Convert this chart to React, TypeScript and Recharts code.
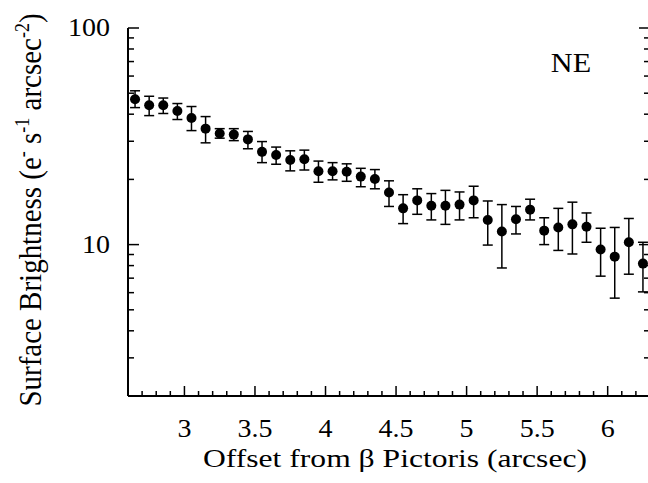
import {
  ScatterChart,
  Scatter,
  XAxis,
  YAxis,
  ErrorBar,
} from 'recharts';

// offset from beta Pic (arcsec)
const offsets = [
  2.65, 2.75, 2.85, 2.95, 3.05, 3.15, 3.25, 3.35, 3.45, 3.55, 3.65, 3.75, 3.85,
  3.95, 4.05, 4.15, 4.25, 4.35, 4.45, 4.55, 4.65, 4.75, 4.85, 4.95, 5.05, 5.15,
  5.25, 5.35, 5.45, 5.55, 5.65, 5.75, 5.85, 5.95, 6.05, 6.15, 6.25,
];

const brightness = [
  46.9, 44.0, 44.0, 41.4, 38.4, 34.3, 32.6, 32.2, 30.6, 26.8, 25.9, 24.6, 24.8,
  21.8, 21.8, 21.7, 20.6, 20.1, 17.4, 14.7, 16.0, 15.1, 15.1, 15.3, 16.0, 13.0,
  11.5, 13.1, 14.5, 11.6, 12.0, 12.4, 12.1, 9.5, 8.8, 10.25, 8.17,
];

const upper = [
  51.3, 48.4, 47.5, 44.8, 43.4, 39.0, 34.3, 34.3, 33.3, 29.9, 28.2, 27.1, 27.3,
  24.3, 23.9, 23.6, 22.5, 22.2, 19.7, 17.0, 18.1, 17.2, 17.8, 17.5, 18.6, 15.9,
  15.3, 15.0, 16.2, 13.3, 14.7, 15.7, 14.0, 11.9, 12.0, 13.2, 10.25,
];

const lower = [
  42.9, 39.4, 40.3, 37.8, 33.6, 29.5, 31.0, 30.2, 27.7, 23.9, 23.5, 21.9, 22.1,
  19.4, 19.9, 19.6, 18.5, 18.1, 15.0, 12.5, 13.8, 13.0, 12.4, 13.0, 13.3, 9.95,
  7.8, 11.2, 13.0, 10.0, 9.4, 9.05, 10.25, 7.15, 5.66, 7.3, 6.05,
];

const xTicks = [
  2.7, 2.8, 2.9, 3, 3.1, 3.2, 3.3, 3.4, 3.5, 3.6, 3.7, 3.8, 3.9, 4, 4.1, 4.2,
  4.3, 4.4, 4.5, 4.6, 4.7, 4.8, 4.9, 5, 5.1, 5.2, 5.3, 5.4, 5.5, 5.6, 5.7, 5.8,
  5.9, 6, 6.1, 6.2,
];
const xMajor = [3, 3.5, 4, 4.5, 5, 5.5, 6];

const yTicks = [2, 3, 4, 5, 6, 7, 8, 9, 10, 20, 30, 40, 50, 60, 70, 80, 90, 100];
const yMajor = [10, 100];

const data = offsets.map((x, i) => ({
  x,
  y: brightness[i],
  err: [brightness[i] - lower[i], upper[i] - brightness[i]],
}));

const FONT = '"Liberation Serif", "Times New Roman", serif';
const INK = '#000';
// the reference's lettering is a little wider than plain Times
const SX = 1.12;

function BottomTick(props: any) {
  const { x, y, payload } = props;
  const major = xMajor.includes(payload.value);
  return (
    <g>
      <line x1={x} x2={x} y1={y} y2={y - (major ? 10 : 5)} stroke={INK} strokeWidth={1.5} />
      {major && (
        <text
          transform={`translate(${x},${y + 41}) scale(${SX},1)`}
          textAnchor="middle"
          fontFamily={FONT}
          fontSize={25}
          fill={INK}
        >
          {String(payload.value)}
        </text>
      )}
    </g>
  );
}

function TopTick(props: any) {
  const { x, y, payload } = props;
  const major = xMajor.includes(payload.value);
  return <line x1={x} x2={x} y1={y} y2={y + (major ? 10 : 5)} stroke={INK} strokeWidth={1.5} />;
}

function LeftTick(props: any) {
  const { x, y, payload } = props;
  const major = yMajor.includes(payload.value);
  return (
    <g>
      <line x1={x} x2={x + (major ? 11 : 6)} y1={y} y2={y} stroke={INK} strokeWidth={1.5} />
      {major && (
        <text
          transform={`translate(${x - 18},${y + 8}) scale(${SX},1)`}
          textAnchor="end"
          fontFamily={FONT}
          fontSize={25}
          fill={INK}
        >
          {String(payload.value)}
        </text>
      )}
    </g>
  );
}

function RightTick(props: any) {
  const { x, y, payload } = props;
  const major = yMajor.includes(payload.value);
  return <line x1={x} x2={x - (major ? 11 : 6)} y1={y} y2={y} stroke={INK} strokeWidth={1.5} />;
}

export default function App() {
  return (
    <div
      style={{
        position: 'absolute',
        left: 0,
        top: 0,
        width: 648,
        height: 483,
        overflow: 'hidden',
        background: '#fff',
      }}
    >
      <ScatterChart
        width={660}
        height={483}
        margin={{ top: 28, right: 0, bottom: 0, left: 0 }}
      >
        <XAxis
          xAxisId="b"
          dataKey="x"
          type="number"
          domain={[2.6, 6.3]}
          ticks={xTicks}
          interval={0}
          allowDataOverflow
          orientation="bottom"
          height={87}
          tickSize={0}
          tickMargin={0}
          tick={BottomTick}
          axisLine={{ stroke: INK, strokeWidth: 2 }}
        />
        <XAxis
          xAxisId="t"
          dataKey="x"
          type="number"
          domain={[2.6, 6.3]}
          ticks={xTicks}
          interval={0}
          allowDataOverflow
          orientation="top"
          height={0}
          tickSize={0}
          tickMargin={0}
          tick={TopTick}
          axisLine={{ stroke: INK, strokeWidth: 2 }}
        />
        <YAxis
          yAxisId="l"
          dataKey="y"
          type="number"
          scale="log"
          domain={[2, 100]}
          ticks={yTicks}
          interval={0}
          allowDataOverflow
          orientation="left"
          width={128}
          tickSize={0}
          tickMargin={0}
          tick={LeftTick}
          axisLine={{ stroke: INK, strokeWidth: 2 }}
        />
        <YAxis
          yAxisId="r"
          dataKey="y"
          type="number"
          scale="log"
          domain={[2, 100]}
          ticks={yTicks}
          interval={0}
          allowDataOverflow
          orientation="right"
          width={10}
          tickSize={0}
          tickMargin={0}
          tick={RightTick}
          axisLine={{ stroke: INK, strokeWidth: 2 }}
        />
        <Scatter
          xAxisId="b"
          yAxisId="l"
          data={data}
          fill={INK}
          isAnimationActive={false}
          shape={(p: any) => <circle cx={p.cx} cy={p.cy} r={5} fill={INK} />}
        >
          <ErrorBar
            dataKey="err"
            direction="y"
            width={5}
            stroke={INK}
            strokeWidth={1.5}
            isAnimationActive={false}
          />
        </Scatter>
      </ScatterChart>
      <svg
        width={648}
        height={483}
        style={{ position: 'absolute', left: 0, top: 0, pointerEvents: 'none' }}
      >
        <text
          transform={`translate(571,72) scale(${SX},1)`}
          textAnchor="middle"
          fontFamily={FONT}
          fontSize={27}
          fill={INK}
        >
          NE
        </text>
        <text
          x={395}
          y={467}
          textAnchor="middle"
          fontFamily={FONT}
          fontSize={25}
          fill={INK}
          textLength={384}
          lengthAdjust="spacingAndGlyphs"
        >
          Offset from  β Pictoris (arcsec)
        </text>
        <text
          transform={`translate(41,210) scale(${SX},1) rotate(-90)`}
          textAnchor="middle"
          fontFamily={FONT}
          fontSize={29}
          fill={INK}
        >
          Surface Brightness (e
          <tspan fontSize={18} dy={-11}>-</tspan>
          <tspan dy={11}> s</tspan>
          <tspan fontSize={18} dy={-11}>-1</tspan>
          <tspan dy={11}> arcsec</tspan>
          <tspan fontSize={18} dy={-11}>-2</tspan>
          <tspan dy={11}>)</tspan>
        </text>
      </svg>
    </div>
  );
}
